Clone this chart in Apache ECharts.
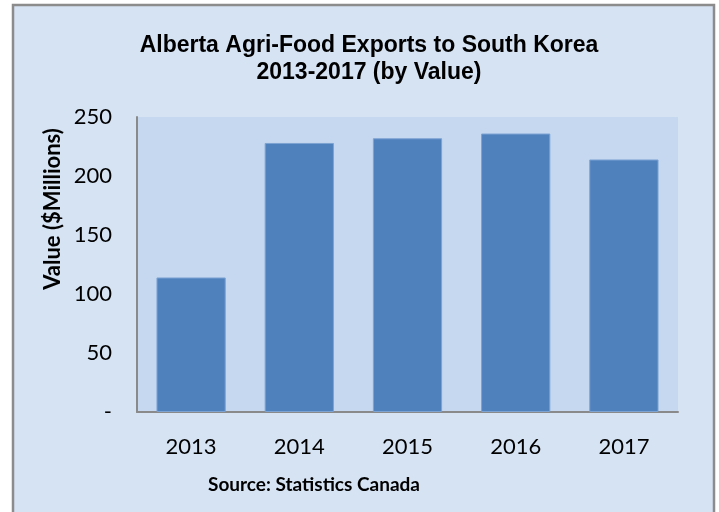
<!DOCTYPE html>
<html><head><meta charset="utf-8">
<script src="https://cdn.jsdelivr.net/npm/echarts@6/dist/echarts.min.js"></script>
<style>html,body{margin:0;padding:0;background:#fff}#c{width:719px;height:512px}</style>
</head><body><div id="c"></div>
<script>
const categories = ['2013','2014','2015','2016','2017'];
const values = [114, 228, 232, 236, 214];
const yTicks = [0, 50, 100, 150, 200, 250];

const chart = echarts.init(document.getElementById('c'));
chart.setOption({
  animation: false,
  backgroundColor: '#ffffff',
  graphic: [
    {type:'rect', shape:{x:13, y:5, width:701, height:510}, style:{fill:'#d6e3f3', stroke:'#8c8c8c', lineWidth:2.5}, z:-10, silent:true},
    {type:'text', x:208, y:485, style:{text:'Source: Statistics Canada', font:'bold 19px Lato, "Open Sans", sans-serif', fill:'#000', textVerticalAlign:'middle'}, z:10},
    {type:'text', x:53, y:209, rotation:Math.PI/2, style:{text:'Value ($Millions)', font:'bold 22px Lato, "Open Sans", sans-serif', fill:'#000', textAlign:'center', textVerticalAlign:'middle'}, z:10}
  ],
  title: {
    text: 'Alberta Agri-Food Exports to South Korea\n2013-2017 (by Value)',
    left: 364, top: 27, textAlign: 'center',
    textStyle: {fontFamily:'"Liberation Sans", Arial, sans-serif', fontWeight:'bold', fontSize:23, lineHeight:27, color:'#000'}
  },
  grid: {left:137, right:719-678, top:117, bottom:512-412, backgroundColor:'#c6d8ef', show:true, borderWidth:0},
  xAxis: {
    type:'category', data: categories,
    axisLine:{lineStyle:{color:'#8a8a8a', width:2}},
    axisTick:{show:false},
    axisLabel:{margin:24, fontSize:22, color:'#000', fontFamily:'Lato, "Open Sans", sans-serif'}
  },
  yAxis: {
    type:'value', min:0, max:250, interval:50,
    axisLine:{show:true, lineStyle:{color:'#8a8a8a', width:2}},
    axisTick:{show:false},
    splitLine:{show:false},
    axisLabel:{margin:25, fontSize:22, color:'#000', fontFamily:'Lato, "Open Sans", sans-serif',
      formatter: v => v === 0 ? '-' : String(v)}
  },
  series: [{
    type:'bar', data: values, barWidth:'64%',
    itemStyle:{color:'#4f81bd', borderColor:'#7da3d3', borderWidth:1}
  }]
});
</script></body></html>
